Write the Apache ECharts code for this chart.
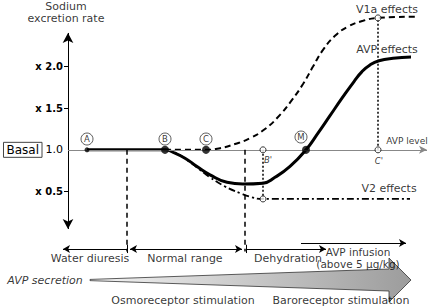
<!DOCTYPE html>
<html>
<head>
<meta charset="utf-8">
<script src="https://cdn.jsdelivr.net/npm/echarts@6/dist/echarts.min.js"></script>
<style>
html, body { margin: 0; padding: 0; background: #fff; }
#chart { width: 432px; height: 308px; }
</style>
</head>
<body>
<div id="chart"></div>
<script>
// [AVP level, sodium excretion rate (x basal)]
var avpEffects = [[19, 1], [97, 1], [107, 0.96], [117, 0.9], [129, 0.8], [142, 0.7], [159, 0.61], [175, 0.59], [195, 0.6], [207, 0.67], [222, 0.8], [238, 1], [250, 1.2], [262, 1.41], [274, 1.62], [286, 1.82], [294, 1.94], [302, 2.02], [311, 2.07], [325, 2.1], [343, 2.115]];
var v1aEffects = [[97, 1], [138, 1], [152, 1.02], [167, 1.07], [182, 1.14], [197, 1.25], [212, 1.42], [224, 1.6], [235, 1.79], [245, 2.0], [255, 2.2], [267, 2.37], [280, 2.48], [295, 2.55], [310, 2.585], [348, 2.6]];
var v2Effects = [[97, 1], [108, 0.96], [120, 0.87], [132, 0.76], [142, 0.67], [157, 0.56], [172, 0.48], [184, 0.43], [195, 0.41], [342, 0.41]];

var keyNames = ['A', 'B', 'C', 'M'];
var keyLevels = [19, 97, 138, 238];
var basal = 1;
var bPrime = [195, 0.41];
var cPrime = [310, 2.585];

var yTickValues = [0.5, 1.5, 2];
var yLabelValues = [0.5, 1, 1.5, 2];

var rangeBounds = [59, 177];
var rangeNames = ['Water diuresis', 'Normal range', 'Dehydration'];
var infusionRange = [233, 338];
var secretionArrow = [[22, 321, 343, -0.564]];

var FONT = 'DejaVu Sans';
var rangeY = -0.19;

function seg(a, b, style, s1, s2, size) {
  return [
    { coord: a, symbol: s1 || 'none', symbolSize: size || [6, 7], lineStyle: style },
    { coord: b, symbol: s2 || 'none', symbolSize: size || [6, 7] }
  ];
}

var black = { color: '#000', width: 1, type: 'solid' };
var dashed = { color: '#000', width: 1.5, type: [5, 4] };
var dotted = { color: '#000', width: 1.5, type: [2, 2] };

var lines = [
  seg([0, 0.049], [0, 2.404], black, 'arrow', 'arrow', [8, 10]),
  seg([0, basal], [359, basal], { color: '#888', width: 1, type: 'solid' }, 'none', 'arrow', [6, 8]),
  seg([rangeBounds[0], basal], [rangeBounds[0], -0.22], dashed),
  seg([rangeBounds[1], basal], [rangeBounds[1], -0.22], dashed),
  seg([bPrime[0], basal], bPrime, dotted),
  seg([cPrime[0], basal], cPrime, dotted),
  seg([rangeBounds[0], rangeY], [-5, rangeY], black, 'none', 'arrow'),
  seg([rangeBounds[0] + 3, rangeY], [rangeBounds[1] - 3, rangeY], black, 'arrow', 'arrow'),
  seg([rangeBounds[1] + 2, rangeY], [258, rangeY], black, 'none', 'arrow'),
  seg([infusionRange[0], -0.12], [infusionRange[1], -0.12], black, 'none', 'arrow'),
  seg([rangeBounds[0], -0.14], [rangeBounds[0], -0.24], black),
  seg([rangeBounds[1] + 1, -0.14], [rangeBounds[1] + 1, -0.24], black)
];

var texts = [
  { name: 'Sodium\nexcretion rate', value: [-2, 2.644], label: { lineHeight: 12, fontSize: 11 } },
  { name: 'V1a effects', value: [319, 2.68], label: { fontSize: 11 } },
  { name: 'AVP effects', value: [319, 2.211], label: { fontSize: 11 } },
  { name: 'V2 effects', value: [321, 0.53], label: { fontSize: 11 } },
  { name: 'AVP level', value: [339, 1.106], label: { fontSize: 9 } },
  { name: "B'", value: [200, 0.878], label: { fontSize: 8.5, fontStyle: 'italic' } },
  { name: "C'", value: [311, 0.866], label: { fontSize: 8.5, fontStyle: 'italic' } },
  { name: rangeNames[0], value: [22, -0.30] },
  { name: rangeNames[1], value: [117, -0.30] },
  { name: rangeNames[2], value: [220, -0.30] },
  { name: 'AVP infusion', value: [290, -0.227], label: { fontSize: 10.5 } },
  { name: '(above 5 \u03bcg/kg)', value: [290, -0.372], label: { fontSize: 10.5 } },
  { name: 'AVP secretion', value: [-23, -0.564], label: { fontStyle: 'italic' } },
  { name: 'Osmoreceptor stimulation', value: [115, -0.804] },
  { name: 'Baroreceptor stimulation', value: [273, -0.804] }
];

var dots = keyLevels.map(function (x, i) {
  return { value: [x, basal], symbolSize: i === 0 ? 5 : 8 };
});
var openDots = [[bPrime[0], basal], bPrime, [cPrime[0], basal], cPrime];
var circled = keyNames.map(function (n, i) {
  return { name: n, value: [keyLevels[i] - (n === 'M' ? 5 : 0), n === 'M' ? 1.154 : 1.13] };
});

var chart = echarts.init(document.getElementById('chart'), null, { renderer: 'svg' });
chart.setOption({
  animation: false,
  backgroundColor: '#fff',
  textStyle: { fontFamily: FONT },
  grid: { left: 0, right: 0, top: 0, bottom: 0, containLabel: false, outerBoundsMode: 'none' },
  xAxis: { type: 'value', min: -68, max: 364, show: false },
  yAxis: {
    type: 'value', min: -0.9, max: 2.8,
    offset: -68,
    splitLine: { show: false },
    axisLine: { show: false, onZero: false },
    axisTick: { show: true, length: 4, customValues: yTickValues, lineStyle: { color: '#000' } },
    axisLabel: {
      customValues: yLabelValues,
      margin: 5,
      formatter: function (v) {
        if (v === 1) return '{box|Basal}{n| 1.0}';
        return '{x|x ' + v.toFixed(1) + '}';
      },
      rich: {
        box: { fontFamily: FONT, fontSize: 12, color: '#000', borderColor: '#444', borderWidth: 1, padding: [2, 3, 1, 3] },
        n: { fontFamily: FONT, fontSize: 11, color: '#000' },
        x: { fontFamily: FONT, fontSize: 10, fontWeight: 'bold', color: '#000' }
      }
    }
  },
  series: [
    {
      type: 'line', data: [], z: 1,
      markLine: { silent: true, label: { show: false }, data: lines }
    },
    {
      name: 'V2 effects', type: 'line', data: v2Effects, smooth: 0.5,
      showSymbol: false, z: 3,
      lineStyle: { color: '#000', width: 1.8, type: [7, 3, 2, 3] }
    },
    {
      name: 'V1a effects', type: 'line', data: v1aEffects, smooth: 0.5,
      showSymbol: false, z: 3,
      lineStyle: { color: '#000', width: 2, type: [6, 4] }
    },
    {
      name: 'AVP effects', type: 'line', data: avpEffects, smooth: 0.5,
      showSymbol: false, z: 4,
      lineStyle: { color: '#000', width: 3 }
    },
    {
      type: 'custom', z: 2, data: secretionArrow,
      renderItem: function (params, api) {
        var y = api.value(3);
        var tail = api.coord([api.value(0), y]);
        var body = api.coord([api.value(1), y]);
        var tip = api.coord([api.value(2), y]);
        return {
          type: 'polygon',
          shape: { points: [
            [tail[0], tail[1] - 0.6], [body[0], body[1] - 11], [body[0], body[1] - 22],
            tip, [body[0], body[1] + 22], [body[0], body[1] + 11], [tail[0], tail[1] + 0.6]
          ] },
          style: {
            fill: new echarts.graphic.LinearGradient(0, 0, 1, 0, [
              { offset: 0, color: '#f4f4f4' }, { offset: 1, color: '#9c9c9c' }
            ]),
            stroke: '#333', lineWidth: 0.8
          }
        };
      }
    },
    {
      type: 'scatter', data: dots, z: 6, symbol: 'circle',
      itemStyle: { color: '#000' }
    },
    {
      type: 'scatter', data: openDots, z: 6, symbol: 'circle', symbolSize: 6,
      itemStyle: { color: '#fff', borderColor: '#000', borderWidth: 1 }
    },
    {
      type: 'scatter', data: circled, z: 6, symbol: 'circle', symbolSize: 12,
      itemStyle: { color: '#fff', borderColor: '#000', borderWidth: 0.8 },
      label: { show: true, position: 'inside', formatter: '{b}', fontFamily: FONT, fontSize: 8.5, color: '#000' }
    },
    {
      type: 'scatter', data: texts, z: 7, symbolSize: 0,
      label: { show: true, position: 'inside', formatter: '{b}', fontFamily: FONT, fontSize: 11, color: '#000' }
    }
  ]
});
</script>
</body>
</html>
